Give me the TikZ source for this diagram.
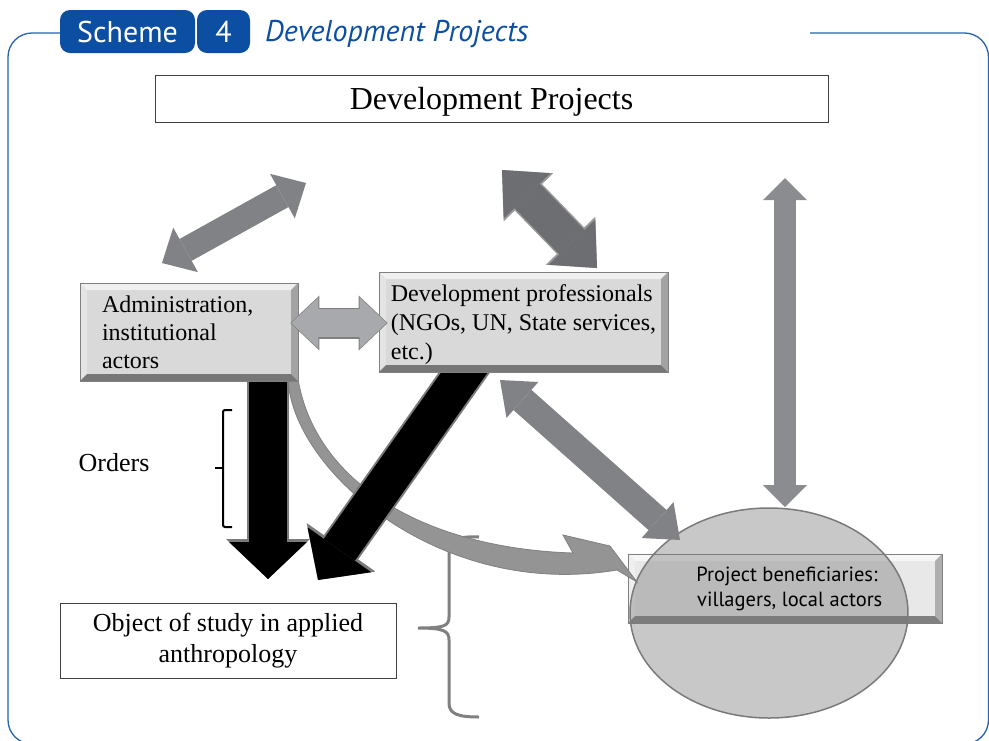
\documentclass[tikz,border=0pt]{standalone}
\usepackage{fontspec}
\setmainfont{Liberation Serif}
\newfontfamily\myriad{PT Sans}
\usetikzlibrary{arrows.meta,shapes.geometric}
\definecolor{schemeblue}{RGB}{12,78,162}
\definecolor{frameblue}{RGB}{38,98,176}
\definecolor{arrowgrey}{RGB}{128,130,133}
\definecolor{darkgrey}{RGB}{109,110,113}
\definecolor{lightgrey}{RGB}{167,169,172}
\definecolor{midgrey}{RGB}{138,140,143}
\definecolor{boxgrey}{RGB}{217,217,217}
\definecolor{paleboxgrey}{RGB}{232,232,232}
\definecolor{ovalgrey}{RGB}{118,118,118}
\begin{document}
\begin{tikzpicture}[x=1pt,y=-1pt,line join=miter,
  framerule/.style={draw=frameblue,line width=1.3pt,rounded corners=24pt},
  tabbox/.style={fill=schemeblue,rounded corners=10pt,text=white,inner sep=0pt,
    minimum height=43pt,font=\myriad\fontsize{30}{33}\selectfont},
  plainbox/.style={draw=black!75,line width=0.8pt,fill=white},
  bevelbox/.style={draw=black!50,line width=0.8pt,fill=#1,path picture={
    \path (path picture bounding box.north west) coordinate (bnw)
          (path picture bounding box.north east) coordinate (bne)
          (path picture bounding box.south west) coordinate (bsw)
          (path picture bounding box.south east) coordinate (bse);
    \fill[white!60!#1] (bnw) -- (bne) -- ([xshift=-7pt,yshift=-7pt]bne) -- ([xshift=7pt,yshift=-7pt]bnw) -- cycle;
    \fill[white!30!#1] (bnw) -- ([xshift=7pt,yshift=-7pt]bnw) -- ([xshift=7pt,yshift=7pt]bsw) -- (bsw) -- cycle;
    \fill[black!25!#1] (bne) -- (bse) -- ([xshift=-7pt,yshift=7pt]bse) -- ([xshift=-7pt,yshift=-7pt]bne) -- cycle;
    \fill[black!45!#1] (bsw) -- (bse) -- ([xshift=-7pt,yshift=7pt]bse) -- ([xshift=7pt,yshift=7pt]bsw) -- cycle;
  }},
  bevelbox/.default=boxgrey,
  twoway/.style args={#1/#2/#3/#4}{draw=#1,line width=#2,
    arrows={Triangle[length=#4,width=#3,line width=0pt]-Triangle[length=#4,width=#3,line width=0pt]}},
  oneway/.style args={#1/#2/#3/#4}{draw=#1,line width=#2,
    arrows={-Triangle[length=#4,width=#3,line width=0pt]}},
  ]
\useasboundingbox (0,0) rectangle (989,740);
%% heading
\node[tabbox,minimum width=135pt] (scheme) at (127.5,31.5) {Scheme};
\node[tabbox,minimum width=53pt] (number) at (223.5,31.5) {4};
\node[anchor=base west,text=schemeblue,inner sep=0pt,font=\myriad\itshape\fontsize{30}{33}\selectfont] (title) at (265,41) {Development Projects};
\draw[framerule] ([yshift=-1.5pt]scheme.west) -- (8,33) -- (8,744) -- (988.5,744) -- (988.5,33) -- (810,33);
%% boxes
\node[plainbox,minimum width=673pt,minimum height=47pt,text depth=0pt,font=\fontsize{32}{36}\selectfont] (projects) at (491.5,98.5) {Development Projects};
\node[plainbox,minimum width=336pt,minimum height=75pt,align=center,font=\fontsize{26}{31}\selectfont] (object) at (228,640.5) {Object of study in applied\\anthropology};
\node[font=\fontsize{26}{30}\selectfont] (orders) at (114,463) {Orders};
%
\draw[line width=2pt,rounded corners=2pt] (232,410) -- (223,410) -- (223,527) -- (232,527);
\draw[line width=2pt] (223,468) -- (215,468);
\draw[draw=black!50,line width=3pt] (479,537) .. controls (458,536) and (449,540) .. (449,552) -- (449,617)
  .. controls (449,626) and (444,628) .. (418,628) .. controls (444,628) and (449,631) .. (449,640) -- (449,703)
  .. controls (449,714) and (458,717) .. (479,717);
%% beneficiaries
\node[bevelbox=paleboxgrey,minimum width=314pt,minimum height=69pt] (benef) at (785,588.5) {};
\node[ellipse,draw=black!52,line width=1.5pt,fill=ovalgrey,fill opacity=0.4,minimum width=278pt,minimum height=210pt] (village) at (769,613) {};
\node[align=center,font=\myriad\fontsize{20.5}{25}\selectfont] (benef_text) at (787,589) {Project beneficiaries:\\ \ villagers, local actors};
%% orders arrows
\coordinate (admin_foot) at (268,360);
\coordinate (orders_tip) at (268,579);
\coordinate (prof_foot) at (476,356);
\coordinate (prof_tip) at (318,580);
\filldraw[fill=black!42,draw=black!50,line width=0.8pt] (298,379) .. controls (315,480) and (420,548) .. (573,553)
  -- (563,535) -- (610,546) -- (637,582) -- (617,570)
  .. controls (440,600) and (292,470) .. (288,379) -- cycle;
\draw[oneway=black!52/42pt/84pt/40pt] (admin_foot) -- (orders_tip);
\draw[oneway=black/38pt/78pt/37pt] (admin_foot) -- (orders_tip);
\draw[oneway=black!52/42pt/84pt/40pt] (prof_foot) -- (prof_tip);
\draw[oneway=black/38pt/78pt/37pt] (prof_foot) -- (prof_tip);
%% actor boxes
\node[bevelbox,minimum width=218pt,minimum height=98pt,text width=174pt,inner xsep=22pt,align=left,font=\fontsize{24}{28}\selectfont] (admin) at (189,332) {Administration,\\institutional\\actors};
\node[bevelbox,minimum width=289pt,minimum height=100pt,inner xsep=4pt,text depth=-6pt,align=left,font=\fontsize{24}{29}\selectfont] (prof) at (523.5,322) {Development professionals\\(NGOs, UN, State services,\\etc.)};
%% links
\coordinate (tl_a) at (162,263);
\coordinate (tl_b) at (306,183);
\coordinate (tm_a) at (502,170);
\coordinate (tm_b) at (597,268);
\coordinate (rv_a) at (785,178);
\coordinate (rv_b) at (785,507);
\coordinate (dg_a) at (500,380);
\coordinate (dg_b) at (680,540);
\draw[twoway=arrowgrey/25pt/51pt/27pt] (tl_a) -- (tl_b);
\draw[twoway=black!40/38pt/69pt/38pt] (tm_a) -- (tm_b);
\draw[twoway=darkgrey/35pt/65pt/36pt] (tm_a) -- (tm_b);
\draw[twoway=midgrey/22pt/44pt/22pt] (rv_a) -- (rv_b);
\draw[twoway=arrowgrey/27pt/48pt/30pt] (dg_a) -- (dg_b);
\draw[twoway=black!50/31pt/55pt/29pt] ([xshift=-8pt,yshift=9pt]admin.east) -- ([xshift=9pt,yshift=9pt]admin.east -| prof.west);
\draw[twoway=lightgrey/28pt/51pt/27pt] ([xshift=-7pt,yshift=9pt]admin.east) -- ([xshift=8pt,yshift=9pt]admin.east -| prof.west);
%
\end{tikzpicture}
\end{document}
